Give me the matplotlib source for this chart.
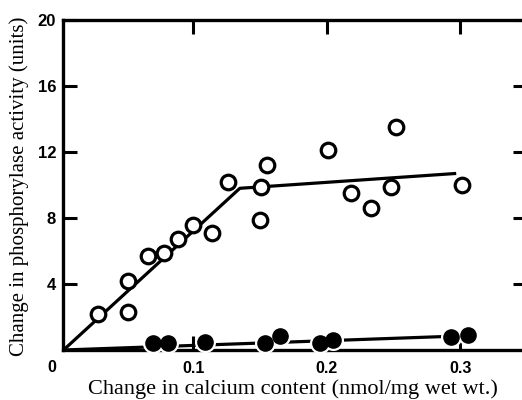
import matplotlib
matplotlib.use("Agg")
import matplotlib.pyplot as plt

# open circles (calcium content vs phosphorylase activity)
open_x = [0.029, 0.051, 0.051, 0.066, 0.078, 0.089, 0.100, 0.114, 0.126,
          0.150, 0.151, 0.155, 0.201, 0.218, 0.233, 0.248, 0.252, 0.301]
open_y = [2.2, 4.2, 2.3, 5.7, 5.9, 6.7, 7.6, 7.1, 10.2,
          7.9, 9.9, 11.2, 12.1, 9.5, 8.6, 9.9, 13.5, 10.0]

# filled circles
fill_x = [0.070, 0.081, 0.109, 0.154, 0.165, 0.195, 0.205, 0.293, 0.306]
fill_y = [0.42, 0.42, 0.48, 0.42, 0.85, 0.42, 0.61, 0.79, 0.91]

# fitted lines
fit1_x = [0.003, 0.135, 0.297]
fit1_y = [0.0, 9.8, 10.7]
fit2_x = [0.003, 0.300]
fit2_y = [0.0, 0.85]

xticks = [0.1, 0.2, 0.3]
xtick_labels = ["0.1", "0.2", "0.3"]
yticks = [4, 8, 12, 16, 20]

fig = plt.figure(figsize=(5.22, 4.0), dpi=100)
ax = fig.add_axes([63 / 522, 50 / 400, 464 / 522, 330 / 400])

ax.plot(fit1_x, fit1_y, color="black", lw=2.3, zorder=2, solid_capstyle="butt")
ax.plot(fit2_x, fit2_y, color="black", lw=2.3, zorder=2, solid_capstyle="butt")

ax.scatter(open_x, open_y, s=110, facecolor="white", edgecolor="black",
           linewidths=2.3, zorder=4, clip_on=False)
ax.scatter(fill_x, fill_y, s=200, color="white", zorder=3, clip_on=False)
ax.scatter(fill_x, fill_y, s=120, color="black", zorder=4, clip_on=False)

ax.set_xlim(0.0026, 0.35)
ax.set_ylim(0, 20)

ax.set_xticks(xticks)
ax.set_xticklabels(xtick_labels)
ax.set_yticks(yticks)

for side in ["left", "top", "bottom"]:
    ax.spines[side].set_linewidth(2.4)
ax.spines["right"].set_visible(False)

ax.tick_params(direction="in", length=10, width=2.2, top=True, right=True,
               labelsize=12, pad=5)
ax.tick_params(axis="x", pad=8, labelsize=11.5)
for lab in ax.get_xticklabels() + ax.get_yticklabels():
    lab.set_family("Liberation Sans")
    lab.set_fontweight("bold")

ax.text(-0.0055, -17 / 330, "0", transform=ax.get_xaxis_transform(),
        ha="center", va="center", fontsize=11.5, family="Liberation Sans",
        fontweight="bold", clip_on=False)

ax.set_xlabel("Change in calcium content (nmol/mg wet wt.)",
              family="Liberation Serif", fontsize=16)
ax.set_ylabel("Change in phosphorylase activity (units)",
              family="Liberation Serif", fontsize=15)
ax.xaxis.set_label_coords((293 - 63) / 464, -44 / 330)
ax.xaxis.label.set_va("baseline")
ax.yaxis.set_label_coords(-(63 - 19) / 464, (350 - 186) / 330)
ax.yaxis.label.set_va("center")

fig.savefig("out.png", dpi=100)
